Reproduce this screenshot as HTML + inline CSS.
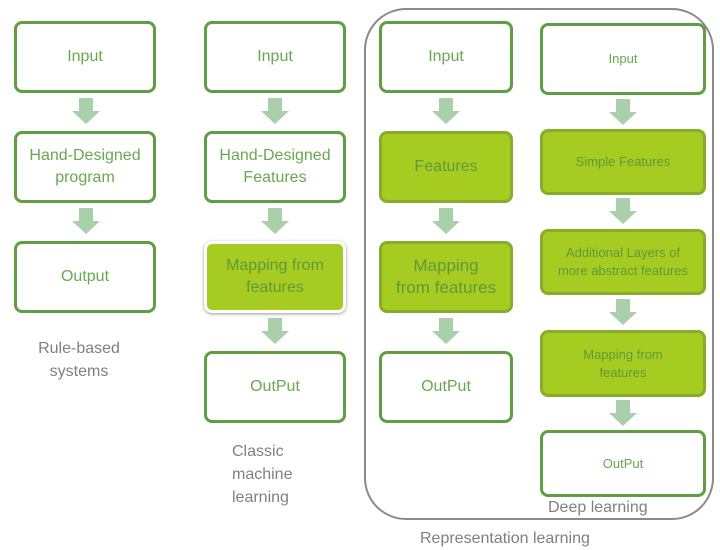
<!DOCTYPE html>
<html><head><style>
body{margin:0;width:720px;height:548px;background:#fff;position:relative;overflow:hidden;font-family:"Liberation Sans",sans-serif}
.b{position:absolute;box-sizing:border-box;border:3px solid #5f9e45;border-radius:8px;background:#fff;display:flex;align-items:center;justify-content:center;text-align:center;color:#6aa84f;font-size:16px;line-height:22px}
.f{background:#a6cc22;border-color:#86ad2c;color:#5e9a38}
.a{position:absolute;width:0;height:0}
.a:before{content:"";position:absolute;left:-7px;top:0;width:14px;height:14px;background:#a9d0aa}
.a:after{content:"";position:absolute;left:-14px;top:13px;border-left:14px solid transparent;border-right:14px solid transparent;border-top:13px solid #a9d0aa}
.t{position:absolute;color:#808080;font-size:16px;line-height:23px;white-space:nowrap}
</style></head><body>
<div style="position:absolute;left:364px;top:8px;width:350px;height:512px;box-sizing:border-box;border:2px solid #8a8a8a;border-radius:42px"></div>

<div class="b" style="left:14px;top:21px;width:142px;height:72px">Input</div>
<div class="b" style="left:14px;top:131px;width:142px;height:72px">Hand-Designed<br>program</div>
<div class="b" style="left:14px;top:241px;width:142px;height:72px">Output</div>
<div class="a" style="left:86px;top:98px"></div>
<div class="a" style="left:86px;top:208px"></div>
<div class="t" style="left:19px;top:337px;text-align:center;width:120px">Rule-based<br>systems</div>

<div class="b" style="left:204px;top:21px;width:142px;height:72px">Input</div>
<div class="b" style="left:204px;top:131px;width:142px;height:72px">Hand-Designed<br>Features</div>
<div class="b f" style="left:204px;top:241px;width:142px;height:72px;border-color:#fff;box-shadow:0 1px 3px #999">Mapping from<br>features</div>
<div class="b" style="left:204px;top:351px;width:142px;height:72px">OutPut</div>
<div class="a" style="left:275px;top:98px"></div>
<div class="a" style="left:275px;top:208px"></div>
<div class="a" style="left:275px;top:318px"></div>
<div class="t" style="left:232px;top:440px">Classic<br>machine<br>learning</div>

<div class="b" style="left:379px;top:21px;width:134px;height:72px">Input</div>
<div class="b f" style="left:379px;top:131px;width:134px;height:72px">Features</div>
<div class="b f" style="left:379px;top:241px;width:134px;height:72px;font-size:17px">Mapping<br>from features</div>
<div class="b" style="left:379px;top:351px;width:134px;height:72px">OutPut</div>
<div class="a" style="left:446px;top:98px"></div>
<div class="a" style="left:446px;top:208px"></div>
<div class="a" style="left:446px;top:318px"></div>

<div class="b" style="left:540px;top:23px;width:166px;height:72px;font-size:13px">Input</div>
<div class="b f" style="left:540px;top:129px;width:166px;height:66px;font-size:13px">Simple Features</div>
<div class="b f" style="left:540px;top:229px;width:166px;height:66px;font-size:13px;line-height:18px">Additional Layers of<br>more abstract features</div>
<div class="b f" style="left:540px;top:330px;width:166px;height:67px;font-size:13px;line-height:18px">Mapping from<br>features</div>
<div class="b" style="left:540px;top:430px;width:166px;height:67px;font-size:13px">OutPut</div>
<div class="a" style="left:623px;top:99px"></div>
<div class="a" style="left:623px;top:198px"></div>
<div class="a" style="left:623px;top:299px"></div>
<div class="a" style="left:623px;top:400px"></div>
<div class="t" style="left:548px;top:496px">Deep learning</div>
<div class="t" style="left:420px;top:527px">Representation learning</div>
</body></html>
